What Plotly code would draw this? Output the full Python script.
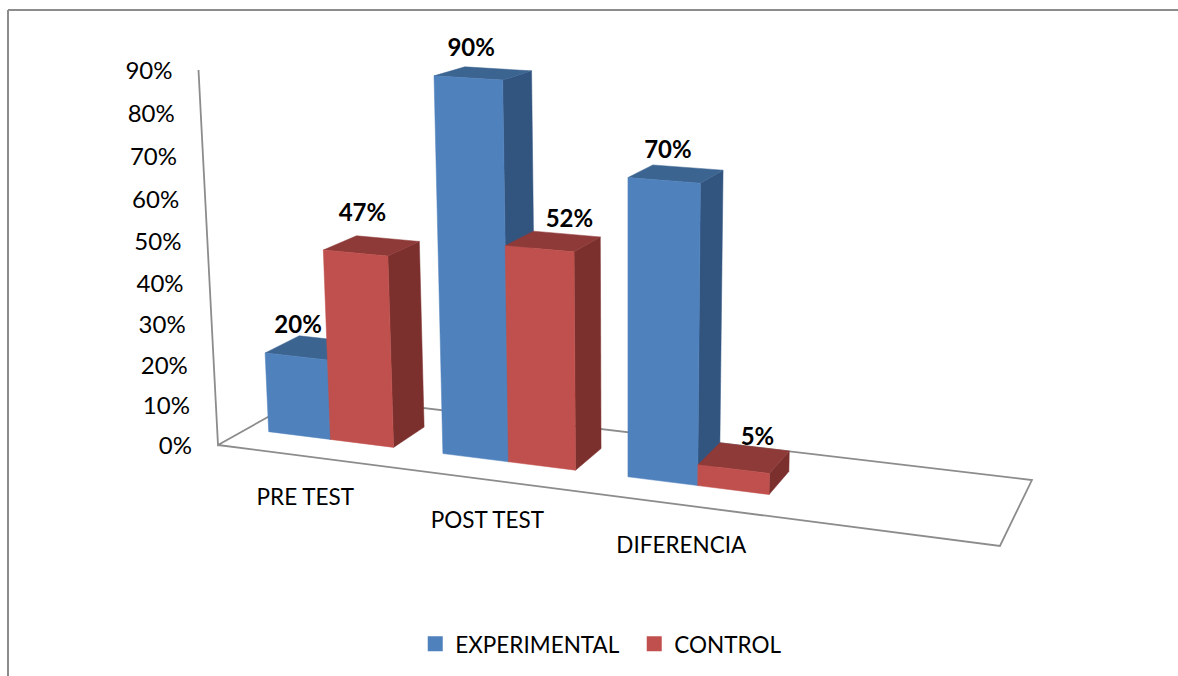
import plotly.graph_objects as go

# ---- data ----
categories = ["PRE TEST", "POST TEST", "DIFERENCIA"]
experimental = [0.20, 0.90, 0.70]
control = [0.47, 0.52, 0.05]
y_ticks = [0.0, 0.1, 0.2, 0.3, 0.4, 0.5, 0.6, 0.7, 0.8, 0.9]
y_tick_labels = ["0%", "10%", "20%", "30%", "40%", "50%", "60%", "70%", "80%", "90%"]
series_names = ["EXPERIMENTAL", "CONTROL"]

# ---- look of the 3D view: origin + three vanishing points in screen pixels ----
ORIGIN = (218.0, 445.0)
VP_U, K_U = (-5500.0, -293.0), -0.1203
VP_V, K_V = (628.0, 8330.0), -0.05044
VP_W, K_W = (1359.0, -194.0), 0.086
SLOT_U = 0.249       # the category axis has room for one more, empty, category
BAR_U, GAP_U = 0.09, 0.0325
W0, W1 = 0.30, 0.68  # bar depth
V_MAX = 0.9

BLUE = ("#4F81BD", "#3C6491", "#325580")
RED = ("#C0504D", "#8E3A38", "#7B302E")
LABEL_OFFSET = {  # data label shift from the front-top middle of its bar
    ("e", 0): (2, -29), ("c", 0): (7, -38),
    ("e", 1): (3, -28), ("c", 1): (30, -28),
    ("e", 2): (4, -28), ("c", 2): (24, -30),
}


def project(u, v, w):
    """Perspective projection of (axis fraction, value, depth) to screen pixels."""
    ku, kv, kw = u * K_U, v * K_V, w * K_W
    den = 1 + ku + kv + kw
    x = ORIGIN[0] + ku * VP_U[0] + kv * VP_V[0] + kw * VP_W[0]
    y = ORIGIN[1] + ku * VP_U[1] + kv * VP_V[1] + kw * VP_W[1]
    return x / den, y / den


def polygon(points, color):
    pts = [project(*p) for p in points]
    pts.append(pts[0])
    return go.Scatter(
        x=[p[0] for p in pts], y=[p[1] for p in pts], mode="lines", fill="toself",
        fillcolor=color, line=dict(color=color, width=0.5),
        hoverinfo="skip", showlegend=False,
    )


fig = go.Figure()

# floor and wall edges
GRAY = "#8C8C8C"
edge = [(0, V_MAX, 0), (0, 0, 0), (0, 0, 1), (1, 0, 1), (1, 0, 0), (0, 0, 0)]
epts = [project(*p) for p in edge]
fig.add_trace(go.Scatter(x=[p[0] for p in epts], y=[p[1] for p in epts], mode="lines",
                         line=dict(color=GRAY, width=1.8), hoverinfo="skip", showlegend=False))

# bars, painted from left to right
label_x, label_y, label_text = [], [], []
for i in range(len(categories)):
    for j, (key, vals, col) in enumerate((("e", experimental, BLUE), ("c", control, RED))):
        val = vals[i]
        u0 = i * SLOT_U + GAP_U + j * BAR_U
        u1 = u0 + BAR_U
        fig.add_trace(polygon([(u1, 0, W0), (u1, 0, W1), (u1, val, W1), (u1, val, W0)], col[2]))
        fig.add_trace(polygon([(u0, val, W0), (u1, val, W0), (u1, val, W1), (u0, val, W1)], col[1]))
        fig.add_trace(polygon([(u0, 0, W0), (u1, 0, W0), (u1, val, W0), (u0, val, W0)], col[0]))
        mx, my = project((u0 + u1) / 2, val, W0)
        dx, dy = LABEL_OFFSET[(key, i)]
        label_x.append(mx + dx)
        label_y.append(my + dy)
        label_text.append(f"{val:.0%}")

FONT = "Lato, Carlito, Calibri, sans-serif"
fig.add_trace(go.Scatter(x=label_x, y=label_y, text=label_text, mode="text", textposition="middle center",
                         textfont=dict(family=FONT, size=24, color="black", weight="bold"),
                         hoverinfo="skip", showlegend=False))

# value axis labels
tick_pts = [project(0, v, 0) for v in y_ticks]
fig.add_trace(go.Scatter(x=[p[0] - 26 for p in tick_pts], y=[p[1] + 3 for p in tick_pts], text=y_tick_labels,
                         mode="text", textposition="middle left",
                         textfont=dict(family=FONT, size=24, color="black"),
                         hoverinfo="skip", showlegend=False))

# category axis labels
cat_pts = [project(0.125 + i * SLOT_U, 0, 0) for i in range(len(categories))]
fig.add_trace(go.Scatter(x=[p[0] for p in cat_pts], y=[p[1] + 43 for p in cat_pts], text=categories,
                         mode="text", textposition="middle center",
                         textfont=dict(family=FONT, size=22.5, color="black"),
                         hoverinfo="skip", showlegend=False))

# legend keys
for name, col in zip(series_names, (BLUE, RED)):
    fig.add_trace(go.Scatter(x=[None], y=[None], mode="markers", name=name,
                             marker=dict(symbol="square", size=15, color=col[0])))

fig.update_layout(
    width=1178, height=676, margin=dict(l=0, r=0, t=0, b=0, pad=0),
    paper_bgcolor="white", plot_bgcolor="white",
    xaxis=dict(range=[0, 1178], visible=False, fixedrange=True),
    yaxis=dict(range=[676, 0], visible=False, fixedrange=True),
    legend=dict(orientation="h", x=0.3525, xanchor="left", y=0.047, yanchor="middle",
                entrywidth=174, entrywidthmode="pixels",
                font=dict(family=FONT, size=22.5, color="black"), bgcolor="rgba(0,0,0,0)"),
    shapes=[
        dict(type="line", xref="x", yref="y", x0=8, x1=8, y0=10, y1=676, line=dict(color="#8C8C8C", width=2)),
        dict(type="line", xref="x", yref="y", x0=8, x1=1178, y0=10, y1=10, line=dict(color="#8C8C8C", width=2)),
    ],
)
fig.write_html("out.html", config={"displayModeBar": False},
               post_script="document.body.style.margin='0';document.documentElement.style.overflow='hidden';")
